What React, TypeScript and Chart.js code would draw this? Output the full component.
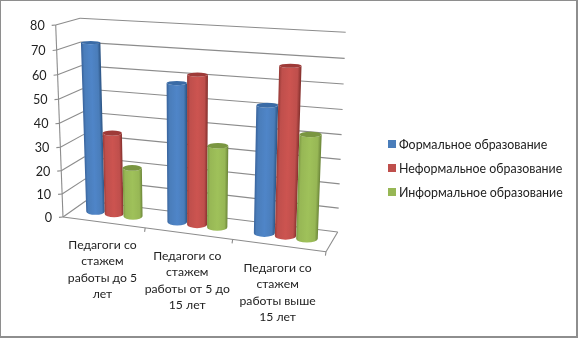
import React, { useEffect, useRef } from "react";
import { Chart, registerables } from "chart.js";

Chart.register(...registerables);

const categories = [
  ["Педагоги со", "стажем", "работы до 5", "лет"],
  ["Педагоги со", "стажем", "работы от 5 до", "15 лет"],
  ["Педагоги со", "стажем", "работы выше", "15 лет"],
];
const seriesNames = ["Формальное образование", "Неформальное образование", "Информальное образование"];
const formal = [72, 58, 52];
const nonFormal = [35, 62, 68];
const informal = [21, 34, 42];
const yTicksMax = 80;
const yStep = 10;

const palettes = [
  { base: "#4A7DBA", edgeL: "#3A659E", mid: "#4F85C8", edgeR: "#2E5787", top: "#3A6BA6" },
  { base: "#BF4F4C", edgeL: "#9C3D3A", mid: "#CC5450", edgeR: "#88322F", top: "#9E3A38" },
  { base: "#97B755", edgeL: "#7E9B45", mid: "#9FC15A", edgeR: "#6D873A", top: "#7A9641" },
];

const FONT = "Lato, 'Open Sans', sans-serif";
const TEXT = "#222222";
const GRID = "#8c8c8c";

// 3D box corners on the canvas
const box = {
  f0b: [63, 217], f0t: [55.7, 25], b0b: [86, 200.7], b0t: [80, 18.3],
  f1b: [326, 251.7], f1t: [335, 41.7], b1b: [337.7, 232], b1t: [345.7, 32.3],
};
const lerp = (a: number, b: number, k: number) => a + (b - a) * k;
const warp = (v: number, k: number) => v / (v + k * (1 - v));
function project(u: number, t: number, d: number) {
  const U = warp(u, 1.1);
  const T = warp(t, 1.05);
  const at = (i: number) => {
    const f0 = lerp(box.f0b[i], box.f0t[i], T);
    const f1 = lerp(box.f1b[i], box.f1t[i], T);
    const b0 = lerp(box.b0b[i], box.b0t[i], T);
    const b1 = lerp(box.b1b[i], box.b1t[i], T);
    return lerp(lerp(f0, f1, U), lerp(b0, b1, U), d);
  };
  return { x: at(0), y: at(1) };
}

function cylinder(ctx: CanvasRenderingContext2D, u0: number, u1: number, t: number, p: (typeof palettes)[0]) {
  const uc = (u0 + u1) / 2;
  const DEPTH = 0.2;
  const end = (tt: number) => {
    const a = project(u0, tt, 0.5);
    const b = project(u1, tt, 0.5);
    const c = { x: (a.x + b.x) / 2, y: (a.y + b.y) / 2 };
    const rx = Math.abs(b.x - a.x) / 2;
    const ry = Math.abs(project(uc, tt, 0).y - project(uc, tt, 1).y) * DEPTH;
    return { c, rx, ry };
  };
  const top = end(t);
  const bot = end(0);
  const g = ctx.createLinearGradient(bot.c.x - bot.rx, 0, bot.c.x + bot.rx, 0);
  g.addColorStop(0, p.edgeL);
  g.addColorStop(0.12, p.base);
  g.addColorStop(0.5, p.mid);
  g.addColorStop(0.85, p.base);
  g.addColorStop(1, p.edgeR);
  ctx.beginPath();
  ctx.ellipse(top.c.x, top.c.y, top.rx, top.ry, 0, Math.PI, 0, true);
  ctx.lineTo(bot.c.x + bot.rx, bot.c.y);
  ctx.ellipse(bot.c.x, bot.c.y, bot.rx, bot.ry, 0, 0, Math.PI, false);
  ctx.closePath();
  ctx.save();
  const shear = (top.c.x - bot.c.x) / (top.c.y - bot.c.y);
  ctx.transform(1, 0, shear, 1, -shear * bot.c.y, 0);
  ctx.fillStyle = g;
  ctx.fill();
  ctx.restore();
  ctx.beginPath();
  ctx.ellipse(top.c.x, top.c.y, top.rx, top.ry, 0, 0, Math.PI * 2);
  ctx.fillStyle = p.top;
  ctx.fill();
}

const scene3d = {
  id: "scene3d",
  beforeDraw(chart: any) {
    const { ctx, width, height } = chart;
    ctx.save();
    ctx.fillStyle = "#fff";
    ctx.fillRect(0, 0, width, height);
    ctx.strokeStyle = "#8e8e8e";
    ctx.lineWidth = 2;
    ctx.strokeRect(0, 0, width - 1, height - 1);
    ctx.restore();
  },
  beforeDatasetsDraw(chart: any) {
    const { ctx, chartArea: area, scales } = chart;
    const y = scales.y;
    const x = scales.x;
    const toT = (v: number) => (area.bottom - y.getPixelForValue(v)) / area.height;
    const toU = (px: number) => (px - area.left) / area.width;
    const line = (a: { x: number; y: number }, b: { x: number; y: number }) => {
      ctx.beginPath();
      ctx.moveTo(a.x, a.y);
      ctx.lineTo(b.x, b.y);
      ctx.stroke();
    };
    ctx.save();
    (ctx as any).filter = "blur(0.35px)";
    ctx.strokeStyle = GRID;
    ctx.lineWidth = 1.1;
    y.ticks.forEach((tick: any) => {
      const t = toT(tick.value);
      const f = project(0, t, 0);
      line(f, project(0, t, 1));
      line(project(0, t, 1), project(1, t, 1));
      line({ x: f.x - 4, y: f.y + 0.4 }, f);
      ctx.fillStyle = TEXT;
      ctx.font = `12.6px ${FONT}`;
      ctx.textAlign = "right";
      ctx.textBaseline = "middle";
      ctx.fillText(String(tick.value), f.x - 11, f.y + 1);
    });
    line(project(0, 0, 0), project(0, 1, 0));
    line(project(0, 0, 0), project(1, 0, 0));
    line(project(1, 0, 0), project(1, 0, 1));
    const step = area.width / chart.data.labels.length;
    chart.data.labels.forEach((_: any, i: number) => {
      const cx = x.getPixelForValue(i);
      const p = project(toU(cx + step / 2), 0, 0);
      line(p, { x: p.x - 0.6, y: p.y + 4 });
      const c = project(toU(cx), 0, 0);
      ctx.fillStyle = TEXT;
      ctx.font = `12.2px ${FONT}`;
      ctx.textAlign = "center";
      ctx.textBaseline = "middle";
      categories[i].forEach((ln, j) => ctx.fillText(ln, c.x - 1, c.y + 22.5 + j * 16.4));
    });
    chart.data.datasets.forEach((ds: any, i: number) => {
      const meta = chart.getDatasetMeta(i);
      meta.data.forEach((bar: any) => {
        const u0 = toU(bar.x - bar.width / 2);
        const u1 = toU(bar.x + bar.width / 2);
        cylinder(ctx, u0, u1, (area.bottom - bar.y) / area.height, palettes[i]);
      });
      const ly = 144 + i * 24;
      ctx.fillStyle = ds.backgroundColor;
      ctx.fillRect(388, ly - 4, 8, 8);
      ctx.fillStyle = TEXT;
      ctx.font = `12.4px ${FONT}`;
      ctx.textAlign = "left";
      ctx.textBaseline = "middle";
      ctx.fillText(ds.label, 399, ly + 0.5);
    });
    ctx.restore();
    return false;
  },
};

export default function App() {
  const ref = useRef<HTMLCanvasElement>(null);
  useEffect(() => {
    document.body.style.margin = "0";
    const chart = new Chart(ref.current!, {
      type: "bar",
      data: {
        labels: categories.map((c) => c.join(" ")),
        datasets: [formal, nonFormal, informal].map((data, i) => ({
          label: seriesNames[i],
          data,
          backgroundColor: palettes[i].base,
          barPercentage: 1,
          categoryPercentage: 0.7,
        })),
      },
      options: {
        responsive: false,
        animation: false,
        events: [],
        layout: { padding: 0 },
        plugins: { legend: { display: false }, tooltip: { enabled: false } },
        scales: {
          x: { display: false, grid: { display: false } },
          y: { display: false, min: 0, max: yTicksMax, ticks: { stepSize: yStep }, grid: { display: false } },
        },
      },
      plugins: [scene3d],
    });
    return () => chart.destroy();
  }, []);
  return <canvas ref={ref} width={578} height={338} style={{ display: "block" }} />;
}
